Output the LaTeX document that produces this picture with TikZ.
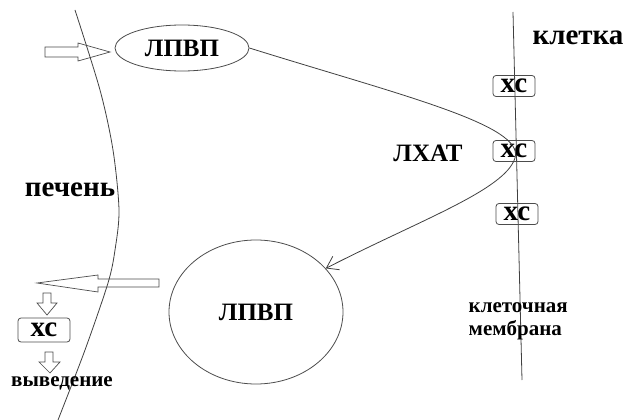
\documentclass[tikz,border=0pt]{standalone}
\usepackage{fontspec}
\setmainfont{Liberation Serif}
\usetikzlibrary{arrows.meta,shapes.geometric}

\tikzset{
  lbl/.style={font=\bfseries\fontsize{25}{27}\selectfont},
  big/.style={font=\bfseries\fontsize{29}{31}\selectfont},
  small/.style={font=\bfseries\fontsize{21}{23}\selectfont},
  lipid/.style={draw=black!70, ellipse, inner sep=0pt, lbl},
  chol/.style={draw=black!70, rounded corners=3pt, inner sep=0pt,
    minimum width=42, minimum height=21, big},
  blockarrow/.style={draw=black!70, fill=white, line width=0.7pt},
}

\begin{document}
\begin{tikzpicture}[x=1pt, y=-1pt, line width=0.8pt,
    >={Straight Barb[length=11pt, width=15pt]}]
\useasboundingbox (0,0) rectangle (629,420);

% Arrows into and out of the liver
\draw[blockarrow] (45,47) -- (78,47) -- (78,43) -- (110,52) -- (78,61)
  -- (78,57) -- (45,57) -- cycle;
\draw[blockarrow] (159,279) -- (98,279) -- (98,275) -- (37,283) -- (98,292)
  -- (98,287) -- (159,287) -- cycle;
\draw[blockarrow] (43,293) -- (51,293) -- (51,303) -- (57,303) -- (47,315)
  -- (37,303) -- (43,303) -- cycle;
\draw[blockarrow] (45,352) -- (53,352) -- (53,362) -- (60,362) -- (50,373)
  -- (39,362) -- (45,362) -- cycle;

% Liver and cell membrane
\draw[black!75] plot[smooth] coordinates {(75,10) (100,90) (113,150) (119,210)
  (115,250) (108,283) (85,350) (58,420)};
\draw[black!75] (513,12) -- (522,380);

% Lipoproteins
\node[lipid, minimum width=134, minimum height=46] (hdl1) at (182,48) {ЛПВП};
\node[lipid, minimum width=174, minimum height=144] (hdl2) at (256,312) {ЛПВП};

% Cholesterol
\node[chol] (xc1) at (514,86) {хс};
\node[chol] (xc2) at (514,151) {хс};
\node[chol] (xc3) at (517,214) {хс};
\node[chol, minimum width=52, minimum height=24] (xc4) at (44,330) {хс};

% Transport
\coordinate (turn) at (515,158);
\draw[black!75, ->] (hdl1.east) .. controls (400,95) and (525,125) .. (turn)
  .. controls (505,190) and (420,220) .. (hdl2.32);

% Labels
\node[big] (liver) at (70,190) {печень};
\node[lbl] (lcat) at (428,153) {ЛХАТ};
\node[big] (cell) at (578,38) {клетка};
\node[small] (out) at (62,383) {выведение};
\node[small, align=left, anchor=west] (memb) at (465,321) {клеточная\\мембрана};
\end{tikzpicture}
\end{document}
